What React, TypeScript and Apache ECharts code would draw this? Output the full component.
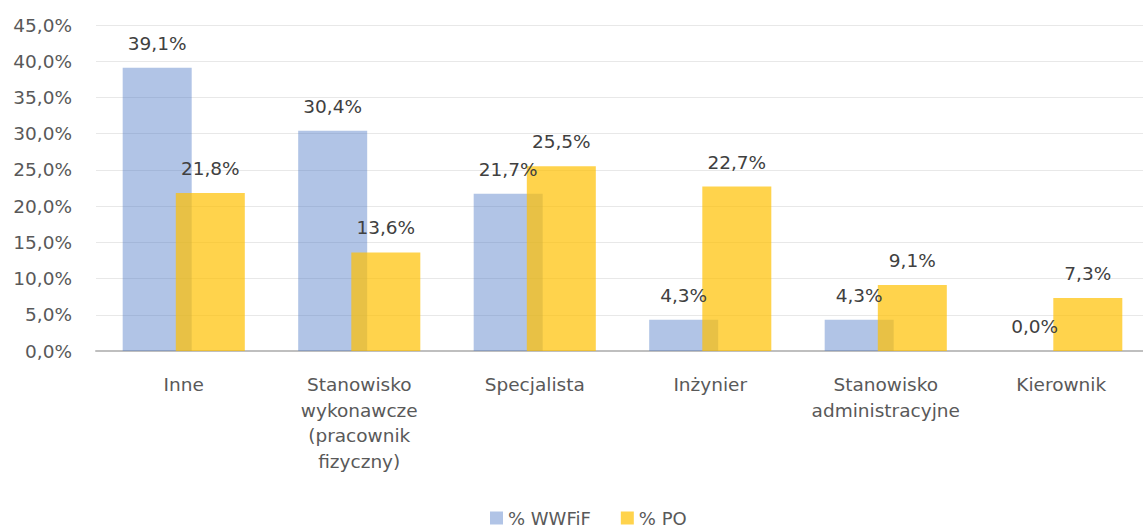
import React, { useEffect, useRef } from "react";
import * as echarts from "echarts";

const categories = [
  "Inne",
  "Stanowisko\nwykonawcze\n(pracownik\nfizyczny)",
  "Specjalista",
  "Inżynier",
  "Stanowisko\nadministracyjne",
  "Kierownik",
];
const seriesNames = ["% WWFiF", "% PO"];
const wwfifValues = [39.1, 30.4, 21.7, 4.3, 4.3, 0.0];
const poValues = [21.8, 13.6, 25.5, 22.7, 9.1, 7.3];
const yTicks = { min: 0, max: 45, interval: 5 };

const fmt = (v: number) => v.toFixed(1).replace(".", ",") + "%";
const FONT = "DejaVu Sans";
const FS = 18.5;

export default function App() {
  const ref = useRef<HTMLDivElement>(null);
  useEffect(() => {
    document.body.style.margin = "0";
    const chart = echarts.init(ref.current!, null, { renderer: "svg" });
    const labelStyle = {
      show: true,
      position: "top" as const,
      distance: 15,
      color: "#404040",
      fontSize: FS,
      fontFamily: FONT,
      formatter: (p: any) => fmt(p.value),
    };
    chart.setOption({
      animation: false,
      textStyle: { fontFamily: FONT },
      grid: { left: 96, right: 0, top: 25, bottom: 181, containLabel: false },
      legend: {
        left: 490,
        top: 509,
        padding: 0,
        itemWidth: 13,
        itemHeight: 13,
        itemGap: 30,
        icon: "rect",
        textStyle: { color: "#595959", fontSize: 18, fontFamily: FONT, lineHeight: 16 },
        data: seriesNames,
      },
      xAxis: {
        type: "category",
        data: categories,
        axisTick: { show: false },
        axisLine: { lineStyle: { color: "#bfbfbf", width: 2 } },
        axisLabel: {
          color: "#595959",
          fontSize: FS,
          fontFamily: FONT,
          lineHeight: 25.5,
          margin: 21,
          interval: 0,
        },
      },
      yAxis: {
        type: "value",
        min: yTicks.min,
        max: yTicks.max,
        interval: yTicks.interval,
        axisLine: { show: false },
        axisTick: { show: false },
        splitLine: { lineStyle: { color: "#e8e8e8", width: 1 } },
        axisLabel: {
          color: "#595959",
          fontSize: FS,
          fontFamily: FONT,
          margin: 24,
          formatter: (v: number) => fmt(v),
        },
      },
      series: [
        {
          name: seriesNames[0],
          type: "bar",
          data: wwfifValues,
          barWidth: 69,
          barGap: "-23%",
          itemStyle: { color: "rgba(68,114,196,0.42)" },
          label: labelStyle,
        },
        {
          name: seriesNames[1],
          type: "bar",
          data: poValues,
          barWidth: 69,
          barGap: "-23%",
          itemStyle: { color: "rgba(255,192,0,0.7)" },
          label: labelStyle,
        },
      ],
    });
    return () => chart.dispose();
  }, []);
  return (
    <div style={{ width: 1143, height: 532, overflow: "hidden" }}>
      <div ref={ref} style={{ width: 1149, height: 532 }} />
    </div>
  );
}
